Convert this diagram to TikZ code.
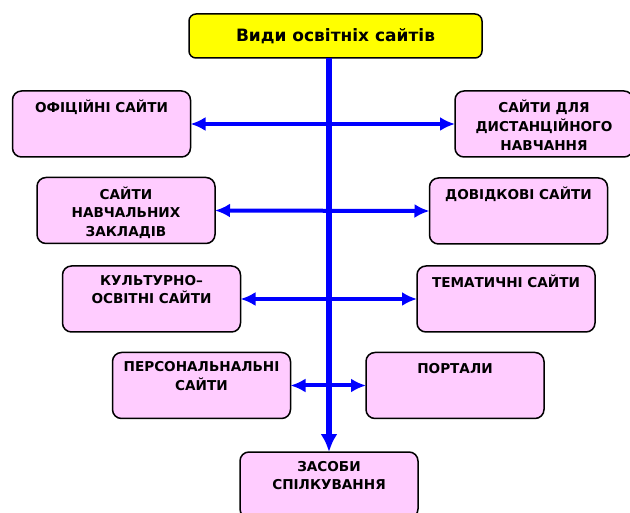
\documentclass[tikz,border=0pt]{standalone}
\usepackage{fontspec}
\setmainfont{DejaVu Sans}
\usetikzlibrary{arrows.meta}
\definecolor{boxpink}{HTML}{FFCCFF}
\definecolor{titleyellow}{HTML}{FFFF00}
\definecolor{arrowblue}{HTML}{0000FF}
\tikzset{
  sitebox/.style={draw=black, line width=1.5pt, fill=boxpink, rounded corners=9pt,
    minimum width=178pt, minimum height=66pt, inner sep=0pt, outer sep=0pt},
  boxtext/.style={font=\bfseries\fontsize{13.6}{18.6}\selectfont, align=center,
    inner sep=0pt, anchor=north, yshift=-9pt,
    execute at begin node={\rule{0pt}{12pt}}},
  titlebox/.style={draw=black, line width=1.5pt, fill=titleyellow, rounded corners=7pt,
    minimum width=293pt, minimum height=44pt, inner sep=0pt, outer sep=0pt,
    font=\bfseries\fontsize{17}{20}\selectfont},
  harrow/.style={draw=arrowblue, line width=4pt, {Latex[length=15pt,width=14pt]}-{Latex[length=15pt,width=14pt]}},
  varrow/.style={draw=arrowblue, line width=6pt, -{Latex[length=18pt,width=17pt]}}
}
\begin{document}
\begin{tikzpicture}[x=1pt,y=-1pt]
\useasboundingbox (0,0) rectangle (630,513);
\begin{scope}
\clip (0,0) rectangle (630,513);
\node[titlebox] (title) at (335.5,36) {Види освітніх сайтів};
\node[sitebox, label={[boxtext]north:ОФІЦІЙНІ САЙТИ}] (of) at (101.5,124) {};
\node[sitebox, label={[boxtext]north:САЙТИ ДЛЯ\\ДИСТАНЦІЙНОГО\\НАВЧАННЯ}] (dist) at (544,124) {};
\node[sitebox, label={[boxtext]north:САЙТИ\\НАВЧАЛЬНИХ\\ЗАКЛАДІВ}] (nav) at (126,210.5) {};
\node[sitebox, label={[boxtext]north:ДОВІДКОВІ САЙТИ}] (dov) at (518.5,211) {};
\node[sitebox, label={[boxtext]north:КУЛЬТУРНО–\\ОСВІТНІ САЙТИ}] (kult) at (151.5,299) {};
\node[sitebox, label={[boxtext]north:ТЕМАТИЧНІ САЙТИ}] (tem) at (506,299) {};
\node[sitebox, label={[boxtext]north:ПЕРСОНАЛЬНАЛЬНІ\\САЙТИ}] (pers) at (201.5,385.5) {};
\node[sitebox, label={[boxtext]north:ПОРТАЛИ}] (port) at (455,385.5) {};
\node[sitebox, label={[boxtext]north:ЗАСОБИ\\СПІЛКУВАННЯ}] (zas) at (329,485) {};

\draw[varrow] (zas.north |- title.south) -- (zas.north);
\draw[harrow] (of.east) -- (dist.west);
\draw[harrow] (nav.east) -- (dov.west);
\draw[harrow] (kult.east) -- (tem.west);
\draw[harrow] (pers.east) -- (port.west);
\end{scope}
\end{tikzpicture}
\end{document}
